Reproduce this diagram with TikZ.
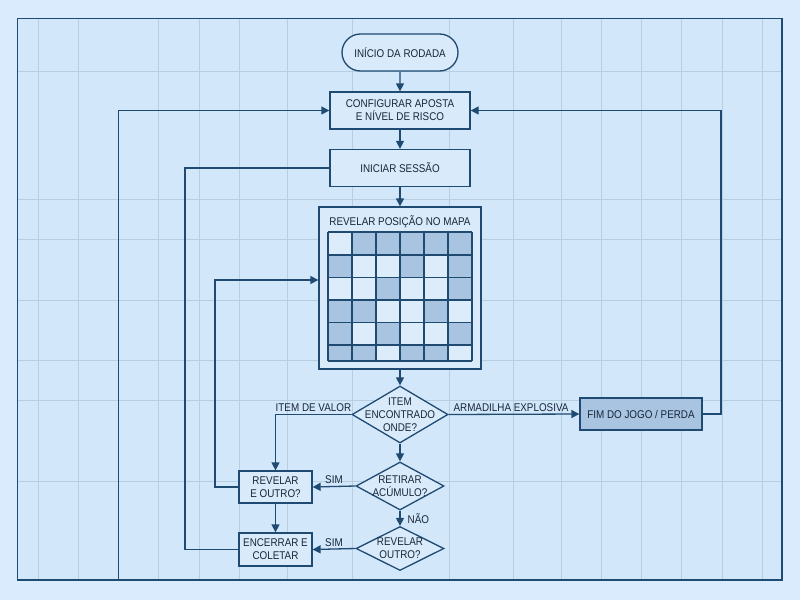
\documentclass[tikz,border=0pt]{standalone}
\usepackage{fontspec}
\setmainfont{Liberation Sans}[FakeStretch=0.88]
\usetikzlibrary{arrows.meta,shapes.geometric,shapes.misc}
\definecolor{bgout}{HTML}{D9EBFC}
\definecolor{bgin}{HTML}{D3E7FA}
\definecolor{gridc}{HTML}{B7CDE0}
\definecolor{lc}{HTML}{1F4A72}
\definecolor{boxfill}{HTML}{D9EBFB}
\definecolor{cellshade}{HTML}{A8C4E1}
\definecolor{celllight}{HTML}{DCECFA}
\definecolor{txt}{HTML}{17263A}
\begin{document}
\begin{tikzpicture}[x=1pt,y=-1pt,
  lbl/.style={font=\fontsize{11.2}{13}\selectfont, text=txt, align=center},
  box/.style={draw=lc, line width=1.3pt, fill=boxfill, inner sep=0pt, lbl},
  term/.style={box, rounded rectangle},
  dia/.style={draw=lc, line width=1.3pt, fill=boxfill, diamond, inner sep=0pt},
  ln/.style={draw=lc, line width=1.3pt},
  arr/.style={ln, -{Triangle[length=8pt,width=8pt]}},
  elab/.style={lbl, inner sep=2pt}]
\useasboundingbox (0,0) rectangle (800,600);
\fill[bgout] (0,0) rectangle (800,600);
\fill[bgin] (17.5,18.5) rectangle (782,580);
% background grid
\foreach \gx in {38,78,158,199,239,287,352,449,513,561,601,641,681,722,762}
  \draw[gridc, line width=0.9pt] (\gx,18.5) -- (\gx,580);
\foreach \gy in {71,199,239,300,360,400,481}
  \draw[gridc, line width=0.9pt] (17.5,\gy) -- (782,\gy);
\draw[lc, line width=1.5pt] (17.5,18.5) rectangle (782,580);

% nodes
\node[term, minimum width=116pt, minimum height=37pt] (start) at (400,52.5) {INÍCIO DA RODADA};
\node[box, minimum width=140pt, minimum height=37pt] (config) at (400,110.5) {CONFIGURAR APOSTA\\E NÍVEL DE RISCO};
\node[box, minimum width=140pt, minimum height=37pt] (ini) at (400,168) {INICIAR SESSÃO};
\node[box, minimum width=162pt, minimum height=162pt] (map) at (400,288) {};
\node[lbl] (maptitle) at (400,222) {REVELAR POSIÇÃO NO MAPA};
% map cells
\foreach \r/\ya/\yb/\pat in {1/232/255/{0,1,1,1,1,1},2/255/277.5/{1,0,0,1,0,1},3/277.5/300/{0,0,1,0,0,1},4/300/322.5/{1,1,0,0,1,0},5/322.5/345/{1,0,1,0,0,1},6/345/361/{1,1,0,1,1,0}}{
  \foreach \v [count=\c from 0] in \pat {
    \ifnum\v=1 \def\cc{cellshade}\else\def\cc{celllight}\fi
    \fill[fill=\cc] ({328+24*\c},\ya) rectangle ({352+24*\c},\yb);
  }
}
\foreach \gx in {328,352,376,400,424,448,472}
  \draw[lc, line width=1.1pt] (\gx,232) -- (\gx,361);
\foreach \gy in {232,255,277.5,300,322.5,345,361}
  \draw[lc, line width=1.1pt] (328,\gy) -- (472,\gy);

\node[dia, minimum width=96pt, minimum height=57pt] (d1) at (400,414.5) {};
\node[lbl] at (d1) {ITEM\\ENCONTRADO\\ONDE?};
\node[box, fill=cellshade, minimum width=122pt, minimum height=32pt] (fim) at (641,414) {FIM DO JOGO / PERDA};
\node[dia, minimum width=88pt, minimum height=48pt] (d2) at (400,486) {};
\node[lbl] at (d2) {RETIRAR\\ACÚMULO?};
\node[dia, minimum width=88pt, minimum height=44pt] (d3) at (400,548.5) {};
\node[lbl] at (d3) {REVELAR\\OUTRO?};
\node[box, minimum width=73pt, minimum height=32pt] (rev) at (275.5,487) {REVELAR\\E OUTRO?};
\node[box, minimum width=73pt, minimum height=33pt] (enc) at (275.5,549.5) {ENCERRAR E\\COLETAR};

% connectors
\draw[arr] (start) -- (config);
\draw[arr] (config) -- (ini);
\draw[arr] (ini) -- (map);
\draw[arr] (map) -- (d1);
\draw[arr] (d1.west) -| (rev.north) node[elab, above, pos=0.25] {ITEM DE VALOR};
\draw[arr] (d1.east) -- (fim.west) node[elab, above, midway, xshift=-3pt] {ARMADILHA EXPLOSIVA};
\draw[arr] (d1.south) -- (d2.north);
\draw[arr] (d2.west) -- (rev.east) node[elab, above, midway] {SIM};
\draw[arr] (d2.south) -- (d3.north) node[elab, right, midway, inner sep=0pt, xshift=7pt] {NÃO};
\draw[arr] (d3.west) -- (enc.east) node[elab, above, midway] {SIM};
\draw[arr] (rev) -- (enc);
\coordinate (c1) at (215,280);
\draw[arr] (rev.west) -| (c1) -- (c1 -| map.west);
\coordinate (c2) at (185,168);
\draw[ln] (enc.west) -| (c2) -- (ini.west);
\coordinate (c3) at (118.5,580);
\draw[arr] (c3) |- (config.west);
\coordinate (c4) at (721,110.5);
\draw[arr] (fim.east) -| (c4) -- (config.east);
\end{tikzpicture}
\end{document}
